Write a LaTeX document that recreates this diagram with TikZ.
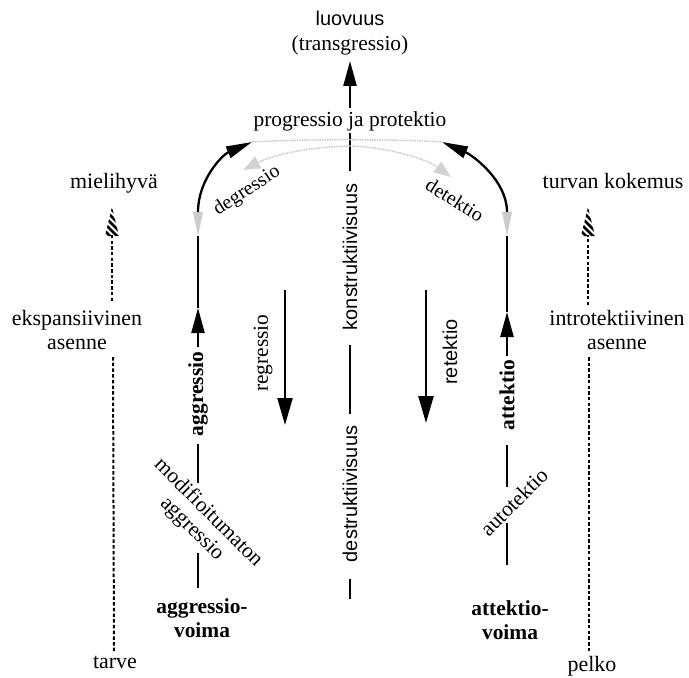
\documentclass[tikz,border=0pt]{standalone}
\usepackage{fontspec}
\setmainfont{Liberation Serif}
\setsansfont{Liberation Sans}
\usetikzlibrary{arrows.meta}
\begin{document}
\begin{tikzpicture}[x=1bp,y=-1bp,
  lbl/.style={font=\fontsize{21.5}{23}\selectfont, inner sep=0pt, align=center},
  outer/.style={font=\fontsize{22}{24}\selectfont, inner sep=0pt, align=center},
  small/.style={font=\fontsize{20}{22}\selectfont, inner sep=0pt},
  slbl/.style={font=\sffamily\fontsize{20}{22}\selectfont, inner sep=0pt},
  blbl/.style={font=\bfseries\fontsize{21.5}{24}\selectfont, inner sep=0pt, align=center},
  blk/.style={line width=2.3bp, draw=black},
  uptip/.style={-{Triangle[length=25bp,width=13bp]}},
  arctip/.style={-{Triangle[length=26bp,width=12bp]}},
  downtip/.style={-{Triangle[length=27bp,width=15bp]}},
  dsh/.style={line width=2bp, dash pattern=on 3.5bp off 2.2bp},
  faint/.style={gray!45, line width=1.4bp, dash pattern=on 1.5bp off 1bp},
  fainttip/.style={-{Triangle[length=17bp,width=13bp,fill=gray!35,color=gray!35]}},
  hatchtip/.pic={
    \begin{scope}
      \clip (0,0) -- (-7,29) -- (7,29) -- cycle;
      \foreach \k in {-4,3,...,36}
        \draw[line width=2.8bp] (-10,\k-10) -- (10,\k+10);
    \end{scope}
  },
  graydrop/.pic={
    \fill[gray!40] (0,0) -- (-5,-24) -- (5,-24) -- cycle;
  }
]
\useasboundingbox (0,0) rectangle (689,678);
\fill[white] (0,0) rectangle (689,678);

% ---- central column ----
\node[slbl] (luo) at (350,18) {luovuus};
\node[lbl] (trans) at (350,45) {(transgressio)};
\node[lbl] (prog) at (350,121) {progressio ja protektio};
\draw[blk, uptip, shorten <=3bp, shorten >=6bp] (prog) -- (trans);

\node[slbl, rotate=90] (kon) at (350,257) {konstruktiivisuus};
\node[slbl, rotate=90] (des) at (350,494) {destruktiivisuus};
\coordinate (cbot) at (350,599);
\draw[blk, shorten <=2bp, shorten >=13bp] (prog) -- (kon);
\draw[blk, shorten <=15bp, shorten >=12bp] (kon) -- (des);
\draw[blk, shorten <=17bp] (des) -- (cbot);

% ---- faint arcs at the top ----
\coordinate (ltip) at (252,142);
\coordinate (rtip) at (442,142);
\coordinate (ctop) at (350,146);
\coordinate (dgtip) at (243,170);
\coordinate (dttip) at (451,177);
\draw[faint] (ltip) .. controls (300,139) and (400,139) .. (rtip);
\draw[faint, fainttip] (ctop) .. controls (310,147) and (275,154) .. (dgtip);
\draw[faint, fainttip] (ctop) .. controls (390,147) and (428,160) .. (dttip);
\node[small, rotate=33] (degr) at (247,191) {degressio};
\node[small, rotate=-32] (dete) at (455,200) {detektio};

% ---- left inner column: aggressio ----
\coordinate (aarc) at (198,212);
\coordinate (agray) at (198,236);
\coordinate (atip) at (198,308);
\node[blbl, rotate=90] (aggr) at (198,394) {aggressio};
\draw[blk, uptip, shorten <=5bp] (aggr) -- (atip);
\draw[blk] (atip) -- (agray);
\pic at (agray) {graydrop};
\draw[blk, arctip] (aarc) .. controls (198,180) and (222,155) .. (ltip);
\node[lbl, rotate=-45] (mod) at (200,521) {modifioitumaton\\aggressio};
\coordinate (mtop) at (198,483);
\coordinate (mlow) at (198,553);
\coordinate (mfoot) at (198,588);
\draw[blk, shorten <=8bp] (aggr) -- (mtop);
\draw[blk] (mlow) -- (mfoot);
\node[blbl] (agvo) at (202,618) {aggressio-\\voima};

% ---- right inner column: attektio ----
\coordinate (tarc) at (507,212);
\coordinate (tgray) at (507,236);
\coordinate (ttip) at (507,312);
\node[blbl, rotate=90] (atte) at (507,395) {attektio};
\draw[blk, uptip, shorten <=4bp] (atte) -- (ttip);
\draw[blk] (ttip) -- (tgray);
\pic at (tgray) {graydrop};
\draw[blk, arctip] (tarc) .. controls (507,180) and (472,155) .. (rtip);
\node[lbl, rotate=45] (auto) at (514,502) {autotektio};
\coordinate (ttop) at (507,487);
\coordinate (tlow) at (507,523);
\coordinate (tfoot) at (507,565);
\draw[blk, shorten <=15bp] (atte) -- (ttop);
\draw[blk] (tlow) -- (tfoot);
\node[blbl] (atvo) at (510,620) {attektio-\\voima};

% ---- downward arrows ----
\node[lbl, rotate=90] (regr) at (263,353) {regressio};
\coordinate (rg1) at (285,290);
\coordinate (rg2) at (285,425);
\draw[blk, downtip] (rg1) -- (rg2);
\node[slbl, rotate=90] (rete) at (450,352) {retektio};
\coordinate (rt1) at (426,290);
\coordinate (rt2) at (426,423);
\draw[blk, downtip] (rt1) -- (rt2);

% ---- outer left column ----
\node[outer] (mieli) at (114,183) {mielihyvä};
\node[outer] (ekspa) at (77,330) {ekspansiivinen\\asenne};
\node[outer] (tarve) at (115,662) {tarve};
\coordinate (lhtip) at (112,207);
\coordinate (lhbase) at (112,235);
\coordinate (lhfoot) at (112,301);
\draw[dsh] (lhfoot) -- (lhbase);
\pic at (lhtip) {hatchtip};
\coordinate (ldtop) at (113,357);
\coordinate (ldbot) at (114,652);
\draw[dsh] (ldtop) -- (ldbot);

% ---- outer right column ----
\node[outer] (turva) at (613,181) {turvan kokemus};
\node[outer] (intro) at (617,330) {introtektiivinen\\asenne};
\node[outer] (pelko) at (592,666) {pelko};
\coordinate (rhtip) at (588,207);
\coordinate (rhbase) at (588,235);
\coordinate (rhfoot) at (588,305);
\draw[dsh] (rhfoot) -- (rhbase);
\pic at (rhtip) {hatchtip};
\coordinate (rdtop) at (589,357);
\coordinate (rdbot) at (589,652);
\draw[dsh] (rdtop) -- (rdbot);
\end{tikzpicture}
\end{document}
